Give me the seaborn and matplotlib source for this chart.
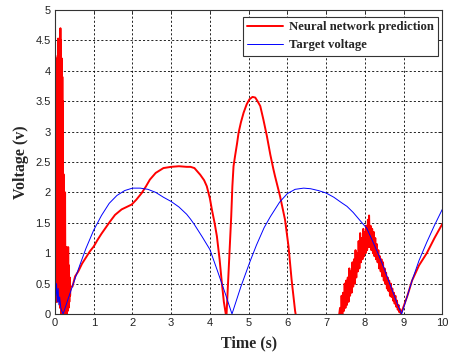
import numpy as np
import pandas as pd
import matplotlib
matplotlib.use("Agg")
import matplotlib.pyplot as plt
import seaborn as sns
from matplotlib.ticker import FuncFormatter

# ---- target voltage (s, V) ----
target_time = [0.00, 0.02, 0.04, 0.06, 0.08, 0.10, 0.12, 0.15, 0.18, 0.21,
               0.35, 0.50, 0.65, 0.80, 1.00, 1.20, 1.40, 1.60, 1.80, 2.00,
               2.20, 2.40, 2.60, 2.80, 3.00, 3.20, 3.40, 3.50, 3.60, 3.80,
               4.00, 4.20, 4.40, 4.57, 4.80, 5.04, 5.20, 5.40, 5.56, 5.80,
               6.00, 6.20, 6.42, 6.60, 6.80, 7.00, 7.20, 7.40, 7.54, 7.70,
               7.90, 8.05, 8.20, 8.35, 8.48, 8.60, 8.75, 8.85, 8.95, 9.10,
               9.22, 9.40, 9.60, 9.80, 10.00]
target_volt = [0.55, 0.30, 0.50, 0.20, 0.42, 0.15, 0.28, 0.10, 0.04, 0.00,
               0.27, 0.55, 0.82, 1.08, 1.38, 1.62, 1.82, 1.95, 2.03, 2.07,
               2.07, 2.05, 2.00, 1.92, 1.85, 1.76, 1.64, 1.56, 1.47, 1.27,
               1.06, 0.70, 0.33, 0.00, 0.45, 0.87, 1.13, 1.42, 1.60, 1.84,
               1.98, 2.05, 2.07, 2.06, 2.03, 1.99, 1.92, 1.83, 1.77, 1.67,
               1.52, 1.41, 1.20, 0.98, 0.78, 0.57, 0.32, 0.15, 0.00, 0.30,
               0.55, 0.88, 1.18, 1.46, 1.72]

# ---- neural network prediction, start-up transient (0 - 0.4 s) ----
start_time = [0.000, 0.005, 0.010, 0.015, 0.020, 0.025, 0.030, 0.035, 0.040, 0.045,
              0.050, 0.055, 0.060, 0.065, 0.070, 0.075, 0.080, 0.085, 0.090, 0.095,
              0.100, 0.105, 0.110, 0.115, 0.120, 0.125, 0.130, 0.135, 0.140, 0.145,
              0.150, 0.155, 0.160, 0.165, 0.170, 0.175, 0.180, 0.185, 0.190, 0.195,
              0.200, 0.210, 0.220, 0.230, 0.240, 0.250, 0.260, 0.270, 0.280, 0.290,
              0.300, 0.310, 0.320, 0.330, 0.340, 0.350, 0.360, 0.370, 0.380, 0.390,
              0.400]
start_volt = [4.20, 0.30, 4.20, 0.50, 4.18, 0.20, 4.15, 0.40, 4.20, 0.30,
              4.10, 0.20, 4.20, 0.40, 4.25, 0.50, 4.53, 0.60, 4.45, 0.30,
              4.10, 0.30, 3.60, 0.20, 3.55, 0.20, 4.00, 0.10, 4.70, 0.10,
              4.50, 0.00, 4.20, 0.10, 4.20, 0.00, 4.20, 0.10, 3.90, 0.00,
              3.50, 0.00, 2.30, 0.20, 1.20, 0.00, 2.00, 0.10, 1.10, 0.30,
              1.10, 0.00, 1.00, 0.05, 1.10, 0.10, 0.80, 0.20, 0.60, 0.30,
              0.45]

# ---- prediction, first and second humps (0.45 - 7.3 s) ----
hump_time = [0.45, 0.52, 0.60, 0.70, 0.80, 0.90, 1.00, 1.10, 1.20, 1.30,
             1.42, 1.55, 1.72, 1.85, 1.98, 2.10, 2.24, 2.35, 2.45, 2.60,
             2.80, 3.00, 3.20, 3.40, 3.50, 3.60, 3.75, 3.85, 3.92, 4.00,
             4.05, 4.12, 4.18, 4.25, 4.31, 4.36, 4.41, 4.43, 4.47, 4.50,
             4.52, 4.55, 4.58, 4.61, 4.65, 4.70, 4.74, 4.80, 4.87,
             4.95, 5.02, 5.10, 5.17, 5.23, 5.30, 5.38, 5.47, 5.56, 5.64,
             5.68, 5.81, 5.94, 6.03, 6.11, 6.20, 6.24, 6.30, 7.30]
hump_volt = [0.45, 0.62, 0.70, 0.83, 0.93, 1.03, 1.11, 1.22, 1.32, 1.41,
             1.52, 1.63, 1.72, 1.76, 1.80, 1.88, 1.99, 2.10, 2.21, 2.32,
             2.40, 2.42, 2.43, 2.42, 2.42, 2.40, 2.29, 2.20, 2.10, 1.90,
             1.72, 1.50, 1.28, 0.90, 0.50, 0.20, 0.00, 0.00, 0.55, 1.00,
             1.20, 1.60, 2.10, 2.43, 2.60, 2.80, 2.98, 3.15, 3.31,
             3.45, 3.53, 3.57, 3.56, 3.50, 3.42, 3.20, 2.93, 2.62, 2.38,
             2.27, 1.94, 1.55, 1.11, 0.56, 0.05, -0.10, -0.20, -0.20]

# ---- prediction, noisy third hump (7.36 - 8.93 s) ----
burst_time = [7.36, 7.38, 7.40, 7.42, 7.44, 7.46, 7.48, 7.50, 7.52, 7.54,
              7.56, 7.58, 7.60, 7.62, 7.64, 7.66, 7.68, 7.70, 7.72, 7.74,
              7.76, 7.78, 7.80, 7.82, 7.84, 7.86, 7.88, 7.90, 7.92, 7.94,
              7.96, 7.98, 8.00, 8.02, 8.04, 8.06, 8.08, 8.10, 8.11, 8.13,
              8.15, 8.17, 8.19, 8.21, 8.23, 8.25, 8.27, 8.29, 8.31, 8.33,
              8.35, 8.37, 8.39, 8.41, 8.43, 8.45, 8.47, 8.49, 8.51, 8.53,
              8.55, 8.57, 8.59, 8.61, 8.63, 8.65, 8.67, 8.69, 8.71, 8.73,
              8.75, 8.77, 8.79, 8.81, 8.83, 8.85, 8.87, 8.89, 8.91, 8.93]
burst_volt = [0.10, -0.05, 0.30, 0.00, 0.35, 0.05, 0.50, 0.10, 0.55, 0.15,
              0.60, 0.20, 0.75, 0.30, 0.70, 0.35, 0.85, 0.45, 0.90, 0.50,
              1.05, 0.60, 1.00, 0.70, 1.20, 0.75, 1.33, 0.85, 1.25, 0.90,
              1.40, 0.95, 1.35, 1.00, 1.45, 1.05, 1.55, 1.10, 1.62, 1.10,
              1.45, 1.05, 1.40, 1.00, 1.35, 0.95, 1.25, 0.90, 1.15, 0.85,
              1.05, 0.75, 0.95, 0.70, 0.90, 0.62, 0.85, 0.55, 0.75, 0.50,
              0.68, 0.42, 0.60, 0.38, 0.55, 0.30, 0.50, 0.28, 0.42, 0.22,
              0.35, 0.17, 0.30, 0.12, 0.22, 0.07, 0.15, 0.03, 0.08, 0.00]

# ---- prediction, final rise (8.95 - 10 s) ----
tail_time = [8.95, 9.10, 9.22, 9.40, 9.60, 9.80, 10.00]
tail_volt = [0.03, 0.30, 0.55, 0.80, 1.00, 1.25, 1.48]

pred = pd.DataFrame({
    "time": start_time + hump_time + burst_time + tail_time,
    "volt": start_volt + hump_volt + burst_volt + tail_volt,
})
target = pd.DataFrame({"time": target_time, "volt": target_volt})

sns.set_style("white")
plt.rcParams["font.family"] = ["Liberation Sans", "DejaVu Sans"]

fig = plt.figure(figsize=(4.49, 3.56), dpi=100)
ax = fig.add_axes([0.1225, 0.118, 0.8625, 0.854])

sns.lineplot(data=pred, x="time", y="volt", ax=ax, sort=False, estimator=None,
             color="#ff0000", linewidth=1.4, label="Neural network prediction")
sns.lineplot(data=target, x="time", y="volt", ax=ax, sort=False, estimator=None,
             color="#0000ff", linewidth=0.7, label="Target voltage")

ax.set_xlim(0, 10)
ax.set_ylim(0, 5)
ax.set_xticks(np.arange(0, 11, 1))
ax.set_yticks(np.arange(0, 5.01, 0.5))
ax.yaxis.set_major_formatter(FuncFormatter(lambda v, p: f"{v:g}"))
ax.tick_params(direction="in", length=3, width=0.6, labelsize=8,
               colors="#222222", top=True, right=True, pad=3)
ax.grid(True, color="black", linestyle=(0, (2.5, 2.5)), linewidth=0.6)

for side in ax.spines.values():
    side.set_color("#333333")
    side.set_linewidth(0.8)

serif_bold = dict(family=["Liberation Serif", "DejaVu Serif"], weight="bold", size=11.5)
ax.set_xlabel("Time (s)", fontdict=serif_bold, labelpad=5)
ax.set_ylabel("Voltage (v)", fontdict=serif_bold, labelpad=5)

leg = ax.legend(loc="upper right", bbox_to_anchor=(438 / 449, 1 - 17 / 356),
                bbox_transform=fig.transFigure, frameon=True, fancybox=False,
                framealpha=1, edgecolor="#333333", borderpad=0.35,
                handlelength=2.8, handletextpad=0.45, labelspacing=0.45,
                borderaxespad=0.0,
                prop=dict(family=["Liberation Serif", "DejaVu Serif"],
                          weight="bold", size=9.2))
leg.get_frame().set_linewidth(0.8)

fig.savefig("out.png", dpi=100)
